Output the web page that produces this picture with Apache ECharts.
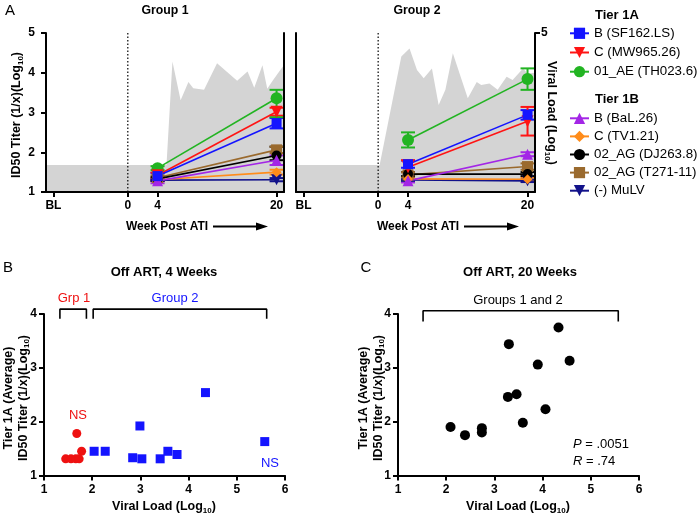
<!DOCTYPE html>
<html><head><meta charset="utf-8">
<script src="https://cdn.jsdelivr.net/npm/echarts@6/dist/echarts.min.js"></script>
<style>html,body{margin:0;padding:0;background:#fff}#c{width:700px;height:516px}</style>
</head><body><div id="c"></div>
<script>
// ---------- data ----------
const strainNames = ['B (SF162.LS)','C (MW965.26)','01_AE (TH023.6)','B (BaL.26)','C (TV1.21)','02_AG (DJ263.8)','02_AG (T271-11)','(-) MuLV'];
const tier1ANames = ['B (SF162.LS)','C (MW965.26)','01_AE (TH023.6)'];
const tier1BNames = ['B (BaL.26)','C (TV1.21)','02_AG (DJ263.8)','02_AG (T271-11)','(-) MuLV'];
const weeks = [4, 20];
const weekTickValues = [-10, 0, 4, 20];
const weekTickLabels = ['BL', '0', '4', '20'];

// Group 1 titers (log10 ID50)
const g1Week4   = [1.40, 1.42, 1.60, 1.28, 1.31, 1.33, 1.36, 1.30];
const g1Week4Lo = [1.32, 1.35, 1.55, 1.22, 1.27, 1.28, 1.30, 1.28];
const g1Week4Hi = [1.48, 1.49, 1.65, 1.34, 1.35, 1.38, 1.42, 1.32];
const g1Week20   = [2.73, 3.02, 3.36, 1.80, 1.50, 1.92, 2.06, 1.31];
const g1Week20Lo = [2.60, 2.92, 2.88, 1.68, 1.44, 1.80, 1.98, 1.27];
const g1Week20Hi = [2.86, 3.12, 3.57, 1.92, 1.56, 2.14, 2.14, 1.35];
// Group 2 titers
const g2Week4   = [1.70, 1.62, 2.31, 1.28, 1.33, 1.45, 1.43, 1.30];
const g2Week4Lo = [1.61, 1.50, 2.12, 1.24, 1.29, 1.40, 1.36, 1.28];
const g2Week4Hi = [1.79, 1.80, 2.50, 1.32, 1.37, 1.50, 1.50, 1.32];
const g2Week20   = [2.94, 2.78, 3.84, 1.95, 1.32, 1.45, 1.64, 1.28];
const g2Week20Lo = [2.82, 2.42, 3.57, 1.90, 1.28, 1.40, 1.56, 1.25];
const g2Week20Hi = [3.06, 3.14, 4.11, 2.00, 1.36, 1.50, 1.72, 1.31];

// Viral load (log10) background
const vlG1Weeks  = [-11, 5.2, 6.0, 7.1, 8.15, 8.8, 10.25, 12.0, 14.7, 16.1, 17.0, 18.1, 18.75, 19.4, 20.5, 21];
const vlG1Values = [1.68, 1.68, 4.28, 3.31, 3.77, 3.61, 3.57, 4.24, 3.80, 4.03, 3.62, 4.19, 3.60, 3.78, 4.07, 4.19];
const vlG2Weeks  = [-11, 0.2, 3.1, 4.2, 5.2, 6.1, 7.2, 8.1, 9.0, 10.0, 12.0, 13.2, 13.8, 14.9, 16.0, 17.2, 18.0, 19.4, 20.0, 21];
const vlG2Values = [1.68, 1.68, 4.41, 4.61, 4.07, 3.86, 4.11, 3.19, 3.57, 4.49, 3.36, 3.77, 3.69, 3.73, 3.57, 3.90, 3.82, 4.11, 3.98, 4.00];

// Panel B (4 weeks off ART)
const bGrp1VL    = [1.45, 1.56, 1.66, 1.73, 1.78, 1.68];
const bGrp1Titer = [1.31, 1.31, 1.31, 1.31, 1.45, 1.78];
const bGrp2VL    = [2.04, 2.27, 2.84, 3.03, 2.99, 3.41, 3.57, 3.76, 4.35, 5.58];
const bGrp2Titer = [1.45, 1.45, 1.33, 1.31, 1.92, 1.31, 1.45, 1.39, 2.54, 1.63];
const bBracketGrp1 = [1.33, 1.88];
const bBracketGrp2 = [2.02, 5.62];

// Panel C (20 weeks off ART)
const cVL    = [2.09, 2.39, 2.74, 2.74, 3.28, 3.46, 3.30, 3.59, 3.90, 4.06, 4.33, 4.56];
const cTiter = [1.90, 1.75, 1.88, 1.80, 2.46, 2.51, 3.44, 1.98, 3.06, 2.23, 3.75, 3.13];
const cBracket = [1.52, 5.57];

// ---------- styling ----------
const FONT = '"Liberation Sans", Arial, Helvetica, sans-serif';
const colors  = ['#1414ff', '#ff1414', '#22b422', '#a326e6', '#ff8c1a', '#000000', '#9a6a2e', '#12128a'];
const symbols = ['rect', 'triangle', 'circle', 'triangle', 'diamond', 'circle', 'rect', 'triangle'];
const rotates = [0, 180, 0, 0, 0, 0, 0, 180];
const sizes   = [10, 12, 12, 11, 10, 10, 11, 11];
const GRAY = '#d4d4d4';

const chart = echarts.init(document.getElementById('c'));

function zip(a, b) { return a.map((v, i) => [v, b[i]]); }

const axisLine = {show: true, onZero: false, lineStyle: {color: '#000', width: 2}};
const labelStyle = {color: '#000', fontFamily: FONT, fontWeight: 'bold', fontSize: 12};

function weekAxis(gridIndex) {
  return {
    type: 'value', gridIndex, min: -11, max: 21,
    axisLine,
    axisTick: {show: true, customValues: weekTickValues, length: 5, lineStyle: {width: 2, color: '#000'}},
    axisLabel: Object.assign({customValues: weekTickValues, margin: 8,
      formatter: v => weekTickLabels[weekTickValues.indexOf(v)]}, labelStyle),
    splitLine: {show: false}, z: 10
  };
}
function vlAxis(gridIndex) {
  return {
    type: 'value', gridIndex, min: 1, max: 6, interval: 1,
    axisLine, axisTick: {length: 5, lineStyle: {width: 2, color: '#000'}},
    axisLabel: Object.assign({margin: 8}, labelStyle),
    splitLine: {show: false}, z: 10
  };
}
function titerAxis(gridIndex, max, margin) {
  return {
    type: 'value', gridIndex, min: 1, max, interval: 1,
    axisLine, axisTick: {length: 5, lineStyle: {width: 2, color: '#000'}},
    axisLabel: Object.assign({margin}, labelStyle),
    splitLine: {show: false}, z: 10
  };
}
function plainAxis(gridIndex, position) {
  return {type: 'value', gridIndex, min: 1, max: 5, position, axisLine,
    axisTick: {show: false}, axisLabel: {show: false}, splitLine: {show: false}, z: 10};
}

function errRender(params, api) {
  const x = api.value(0), lo = api.value(1), hi = api.value(2), ci = api.value(3);
  const t = api.coord([x, hi]), b = api.coord([x, lo]);
  const w = 7;
  const style = {stroke: colors[ci], lineWidth: 2};
  return {type: 'group', children: [
    {type: 'line', shape: {x1: t[0], y1: t[1], x2: b[0], y2: b[1]}, style},
    {type: 'line', shape: {x1: t[0] - w, y1: t[1], x2: t[0] + w, y2: t[1]}, style},
    {type: 'line', shape: {x1: b[0] - w, y1: b[1], x2: b[0] + w, y2: b[1]}, style}
  ]};
}
function errData(w4lo, w4hi, w20lo, w20hi) {
  const d = [];
  strainNames.forEach((n, i) => {
    d.push([weeks[0], w4lo[i], w4hi[i], i]);
    d.push([weeks[1], w20lo[i], w20hi[i], i]);
  });
  return d;
}

const series = [];
// viral load backgrounds
series.push({type: 'line', xAxisIndex: 0, yAxisIndex: 1, data: zip(vlG1Weeks, vlG1Values),
  symbol: 'none', lineStyle: {width: 0}, areaStyle: {color: GRAY, opacity: 1, origin: 'start'}, z: 1, silent: true});
series.push({type: 'line', xAxisIndex: 1, yAxisIndex: 3, data: zip(vlG2Weeks, vlG2Values),
  symbol: 'none', lineStyle: {width: 0}, areaStyle: {color: GRAY, opacity: 1, origin: 'start'}, z: 1, silent: true});
// dotted ATI lines
[[0, 0], [1, 2]].forEach(([xi, yi]) => {
  series.push({type: 'line', xAxisIndex: xi, yAxisIndex: yi, data: [[0, 1], [0, 5]], symbol: 'none',
    lineStyle: {color: '#000', width: 1.2, type: [1.5, 2]}, z: 2, silent: true});
});
// error bars
series.push({type: 'custom', xAxisIndex: 0, yAxisIndex: 0, renderItem: errRender,
  encode: {x: 0, y: [1, 2]}, data: errData(g1Week4Lo, g1Week4Hi, g1Week20Lo, g1Week20Hi), z: 3, silent: true});
series.push({type: 'custom', xAxisIndex: 1, yAxisIndex: 2, renderItem: errRender,
  encode: {x: 0, y: [1, 2]}, data: errData(g2Week4Lo, g2Week4Hi, g2Week20Lo, g2Week20Hi), z: 3, silent: true});
// strain lines (reverse so first strains are drawn on top)
for (let i = strainNames.length - 1; i >= 0; i--) {
  const common = {type: 'line', name: strainNames[i], symbol: symbols[i], symbolSize: sizes[i],
    symbolRotate: rotates[i], color: colors[i], itemStyle: {color: colors[i]},
    lineStyle: {color: colors[i], width: 1.6}, z: 4, silent: true};
  series.push(Object.assign({}, common, {xAxisIndex: 0, yAxisIndex: 0,
    data: zip(weeks, [g1Week4[i], g1Week20[i]])}));
  series.push(Object.assign({}, common, {xAxisIndex: 1, yAxisIndex: 2,
    data: zip(weeks, [g2Week4[i], g2Week20[i]])}));
}
// Panel B
series.push({type: 'scatter', xAxisIndex: 2, yAxisIndex: 4, data: zip(bGrp1VL, bGrp1Titer),
  symbol: 'circle', symbolSize: 9, itemStyle: {color: '#ee1111', opacity: 1}, z: 4});
series.push({type: 'scatter', xAxisIndex: 2, yAxisIndex: 4, data: zip(bGrp2VL, bGrp2Titer),
  symbol: 'rect', symbolSize: 9, itemStyle: {color: '#1414ff', opacity: 1}, z: 4});
function bracket(xr, top, end) {
  return [[xr[0], end], [xr[0], top], [xr[1], top], [xr[1], end]];
}
const bracketStyle = {type: 'line', symbol: 'none', clip: false, silent: true,
  lineStyle: {color: '#000', width: 1.6}, z: 4};
series.push(Object.assign({}, bracketStyle, {xAxisIndex: 2, yAxisIndex: 4, data: bracket(bBracketGrp1, 4.09, 3.91)}));
series.push(Object.assign({}, bracketStyle, {xAxisIndex: 2, yAxisIndex: 4, data: bracket(bBracketGrp2, 4.09, 3.91)}));
// Panel C
series.push({type: 'scatter', xAxisIndex: 3, yAxisIndex: 5, data: zip(cVL, cTiter),
  symbol: 'circle', symbolSize: 10, itemStyle: {color: '#000', opacity: 1}, z: 4});
series.push(Object.assign({}, bracketStyle, {xAxisIndex: 3, yAxisIndex: 5, data: bracket(cBracket, 4.06, 3.86)}));

// ---------- text ----------
function txt(x, y, text, opts) {
  return Object.assign({type: 'text', x, y, silent: true,
    style: Object.assign({text, fill: '#000', fontFamily: FONT, fontSize: 12, align: 'center', verticalAlign: 'middle'}, opts || {})});
}
const richAxis = {
  b: {fontFamily: FONT, fontWeight: 'bold', fontSize: 12.5, lineHeight: 15, fill: '#000'},
  s: {fontFamily: FONT, fontWeight: 'bold', fontSize: 8, lineHeight: 8, verticalAlign: 'bottom', fill: '#000'}
};
function richText(x, y, text, rotation) {
  return {type: 'text', x, y, rotation: rotation || 0, silent: true,
    style: {text, rich: richAxis, align: 'center', verticalAlign: 'middle', fontFamily: FONT, fontSize: 12.5, fontWeight: 'bold'}};
}
function arrow(x1, x2, y) {
  return [
    {type: 'line', silent: true, shape: {x1, y1: y, x2: x2 - 8, y2: y}, style: {stroke: '#000', lineWidth: 2}},
    {type: 'polygon', silent: true, shape: {points: [[x2 - 12, y - 4], [x2, y], [x2 - 12, y + 4]]}, style: {fill: '#000'}}
  ];
}

const graphics = [
  txt(10, 11, 'A', {fontSize: 15}),
  txt(8, 268, 'B', {fontSize: 15}),
  txt(366, 268, 'C', {fontSize: 15}),
  txt(165, 11, 'Group 1', {fontWeight: 'bold', fontSize: 12.3}),
  txt(417, 11, 'Group 2', {fontWeight: 'bold', fontSize: 12.3}),
  txt(164, 272, 'Off ART, 4 Weeks', {fontWeight: 'bold', fontSize: 13}),
  txt(520, 272, 'Off ART, 20 Weeks', {fontWeight: 'bold', fontSize: 13}),
  txt(167, 227, 'Week Post ATI', {fontWeight: 'bold', fontSize: 12}),
  txt(418, 227, 'Week Post ATI', {fontWeight: 'bold', fontSize: 12}),
  ...arrow(213, 268, 226.5),
  ...arrow(464, 519, 226.5),
  richText(17, 115, '{b|ID50 Titer (1/x)(Log}{s|10}{b|)}', Math.PI / 2),
  richText(551, 113, '{b|Viral Load (Log}{s|10}{b|)}', -Math.PI / 2),
  richText(16, 398, '{b|Tier 1A (Average)}\n{b|ID50 Titer (1/x)(Log}{s|10}{b|)}', Math.PI / 2),
  richText(371, 398, '{b|Tier 1A (Average)}\n{b|ID50 Titer (1/x)(Log}{s|10}{b|)}', Math.PI / 2),
  richText(164, 507, '{b|Viral Load (Log}{s|10}{b|)}', 0),
  richText(518, 507, '{b|Viral Load (Log}{s|10}{b|)}', 0),
  txt(595, 15, 'Tier 1A', {fontWeight: 'bold', fontSize: 13, align: 'left'}),
  txt(595, 99, 'Tier 1B', {fontWeight: 'bold', fontSize: 13, align: 'left'}),
  txt(74, 298, 'Grp 1', {fontSize: 13, fill: '#ee1111'}),
  txt(175, 298, 'Group 2', {fontSize: 13, fill: '#1414ff'}),
  txt(78, 415, 'NS', {fontSize: 13, fill: '#ee1111'}),
  txt(270, 463, 'NS', {fontSize: 13, fill: '#1414ff'}),
  txt(518, 300, 'Groups 1 and 2', {fontSize: 13}),
  {type: 'text', x: 573, y: 444, silent: true, style: {text: '{i|P}{n| = .0051}', verticalAlign: 'middle', align: 'left',
    rich: {i: {fontFamily: FONT, fontSize: 13, fontStyle: 'italic', fill: '#000'}, n: {fontFamily: FONT, fontSize: 13, fill: '#000'}}}},
  {type: 'text', x: 573, y: 461, silent: true, style: {text: '{i|R}{n| = .74}', verticalAlign: 'middle', align: 'left',
    rich: {i: {fontFamily: FONT, fontSize: 13, fontStyle: 'italic', fill: '#000'}, n: {fontFamily: FONT, fontSize: 13, fill: '#000'}}}}
];

const legendCommon = {orient: 'vertical', left: 569, padding: 0, itemWidth: 19, itemHeight: 14, itemGap: 5.2,
  textStyle: {fontFamily: FONT, fontSize: 13.3, color: '#000', lineHeight: 14}, selectedMode: false};

const option = {
  animation: false,
  backgroundColor: '#fff',
  grid: [
    {left: 46, top: 33, width: 238, height: 159},
    {left: 296, top: 33, width: 239, height: 159},
    {left: 44, top: 314, width: 241, height: 161.5},
    {left: 398, top: 314, width: 241, height: 161.5}
  ],
  xAxis: [weekAxis(0), weekAxis(1), vlAxis(2), vlAxis(3)],
  yAxis: [
    titerAxis(0, 5, 11),
    plainAxis(0, 'right'),
    plainAxis(1, 'left'),
    {type: 'value', gridIndex: 1, min: 1, max: 5, position: 'right', axisLine,
      axisTick: {show: true, customValues: [5], length: 5, lineStyle: {width: 2, color: '#000'}},
      axisLabel: Object.assign({customValues: [5], margin: 6}, labelStyle), splitLine: {show: false}, z: 10},
    titerAxis(2, 4, 7),
    titerAxis(3, 4, 7)
  ],
  legend: [
    Object.assign({}, legendCommon, {top: 26.3, data: tier1ANames}),
    Object.assign({}, legendCommon, {top: 111.3, itemGap: 4.1, data: tier1BNames})
  ],
  series,
  graphic: graphics
};
chart.setOption(option);
</script></body></html>
